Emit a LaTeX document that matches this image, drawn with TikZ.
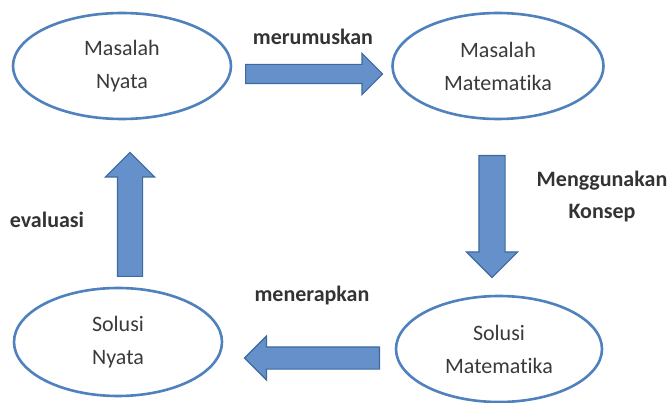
\documentclass[tikz,border=0pt]{standalone}
\usepackage{fontspec}
\setmainfont{Carlito}[Ligatures=NoCommon]
\usetikzlibrary{shapes.geometric,shapes.arrows}
\definecolor{ovalblue}{HTML}{4F81BD}
\definecolor{arrowfill}{HTML}{6590C9}
\definecolor{arrowline}{HTML}{3D6A9F}
\definecolor{txtgray}{HTML}{3A3A3A}

\begin{document}
\begin{tikzpicture}[x=1pt,y=-1pt,
      oval/.style={draw=ovalblue,line width=2.6pt,ellipse,inner sep=0pt,align=center,
        text=txtgray,font=\fontsize{22}{33}\selectfont},
      lbl/.style={align=center,text=black!80,font=\bfseries\fontsize{22}{32}\selectfont},
      blkarrow/.style={single arrow,draw=arrowline,fill=arrowfill,line width=1.2pt,
        inner xsep=0pt,single arrow head indent=0pt,anchor=tail}]
    \useasboundingbox (0,0) rectangle (672,403);
    % --- ovals ---
    \node[oval,minimum width=218,minimum height=106] (mn) at (122,66) {Masalah\\Nyata};
    \node[oval,minimum width=211,minimum height=106] (mm) at (498,66) {Masalah\\Matematika};
    \node[oval,minimum width=206,minimum height=106] (sm) at (499,349) {Solusi\\Matematika};
    \node[oval,minimum width=208,minimum height=108] (sn) at (118,342) {Solusi\\Nyata};
    % --- block arrows (placed by their tails) ---
    \node[blkarrow,minimum height=137,inner ysep=9,single arrow head extend=11]
      (a1) at (245,74) {};
    \node[blkarrow,minimum height=122,inner ysep=12.5,single arrow head extend=12.5,rotate=-90]
      (a2) at (492,155) {};
    \node[blkarrow,minimum height=135,inner ysep=10.5,single arrow head extend=11,rotate=180]
      (a3) at (380,358) {};
    \node[blkarrow,minimum height=124,inner ysep=12,single arrow head extend=12,rotate=90]
      (a4) at (130,277) {};
    % --- labels ---
    \node[lbl] (l1) at (313,37) {merumuskan};
    \node[lbl] (l2) at (602,197) {Menggunakan\\Konsep};
    \node[lbl] (l3) at (312,296) {menerapkan};
    \node[lbl] (l4) at (47,220) {evaluasi};
\end{tikzpicture}
\end{document}
